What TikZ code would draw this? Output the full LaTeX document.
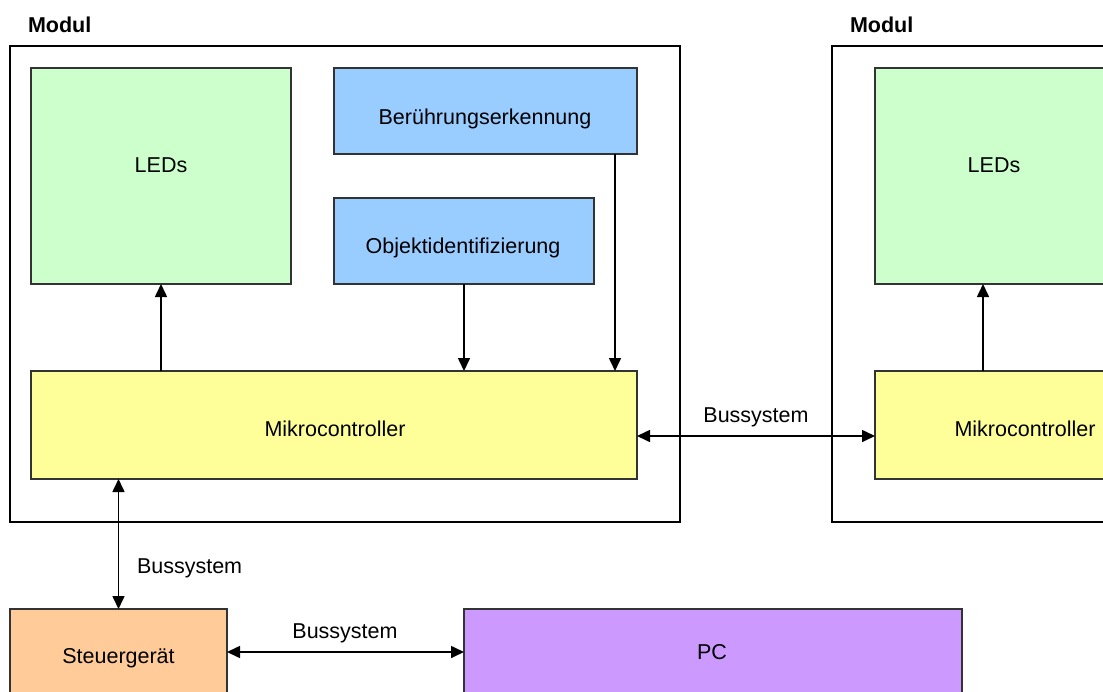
\documentclass[tikz,border=0pt]{standalone}
\usepackage{fontspec}
\setmainfont{Liberation Sans}
\usetikzlibrary{arrows.meta}
\definecolor{ledgreen}{HTML}{CCFFCC}
\definecolor{sensblue}{HTML}{99CCFF}
\definecolor{mcyellow}{HTML}{FFFF99}
\definecolor{ctrlorange}{HTML}{FFCC99}
\definecolor{pcpurple}{HTML}{CC99FF}
\definecolor{edgegray}{HTML}{333333}
\begin{document}
\begin{tikzpicture}[x=1pt,y=-1pt,
  font=\fontsize{21.5}{25}\selectfont,
  every node/.style={inner sep=0pt, outer sep=0pt},
  modul/.style={draw=black, line width=2pt, anchor=north west},
  block/.style={draw=edgegray, line width=1.5pt, anchor=north west},
  lbl/.style={anchor=base},
  heading/.style={anchor=base west, font=\fontsize{21.5}{25}\selectfont\bfseries},
  tip/.tip={Triangle[length=13pt,width=12pt]},
  link/.style={line width=1.6pt, -tip},
  bus/.style={line width=1.6pt, tip-tip},
]
\useasboundingbox (0,0) rectangle (1103,691);
\clip (0,0) rectangle (1103,691);

% left module
\node[heading] (h1) at (28,32) {Modul};
\node[modul, minimum width=670pt, minimum height=476pt] (m1) at (10,46) {};
\node[block, fill=ledgreen, minimum width=260pt, minimum height=216pt] (leds) at (31,68) {};
\node[block, fill=sensblue, minimum width=303pt, minimum height=86pt] (ber) at (334,68) {};
\node[block, fill=sensblue, minimum width=260pt, minimum height=86pt] (obj) at (334,198) {};
\node[block, fill=mcyellow, minimum width=606pt, minimum height=108pt] (mc) at (31,371) {};
\node[lbl] (tleds) at (161,172.5) {LEDs};
\node[lbl] (tber) at (485,124) {Berührungserkennung};
\node[lbl] (tobj) at (463,253) {Objektidentifizierung};
\node[lbl] (tmc) at (335,436) {Mikrocontroller};

% right module (continues beyond the edge)
\node[heading] (h2) at (850,32) {Modul};
\node[modul, minimum width=330pt, minimum height=476pt] (m2) at (832,46) {};
\node[block, fill=ledgreen, minimum width=238pt, minimum height=216pt] (leds2) at (875,68) {};
\node[block, fill=mcyellow, minimum width=300pt, minimum height=108pt] (mc2) at (875,371) {};
\node[lbl] (tleds2) at (994,172.5) {LEDs};
\node[lbl] (tmc2) at (1025,436) {Mikrocontroller};

% external units
\node[block, fill=ctrlorange, minimum width=217pt, minimum height=110pt] (steuer) at (10,609) {};
\node[block, fill=pcpurple, minimum width=498pt, minimum height=100pt] (pc) at (464,609) {};
\node[lbl] (tsteuer) at (118.5,663) {Steuergerät};
\node[lbl] (tpc) at (712,659) {PC};

% signal paths inside the modules
\draw[link] (mc.north -| leds.south) -- (leds.south);
\draw[link] (obj.south) -- (obj.south |- mc.north);
\coordinate (bertap) at ([xshift=-22pt]ber.south east);
\draw[link] (bertap) -- (bertap |- mc.north);
\coordinate (rtap) at ([xshift=108pt]mc2.north west);
\draw[link] (rtap) -- (rtap |- leds2.south);

% bus connections
\coordinate (busA) at ([yshift=-11pt]mc.east);
\draw[bus] (busA) -- (busA -| mc2.west);
\node[lbl] (lbusA) at (756,422) {Bussystem};
\draw[bus] (steuer.north |- mc.south) -- (steuer.north);
\node[anchor=base west] (lbusB) at (137,573) {Bussystem};
\coordinate (busC) at ([yshift=-43pt]pc.north west);
\draw[bus] (busC -| steuer.east) -- (busC);
\node[lbl] (lbusC) at (345,638) {Bussystem};
\end{tikzpicture}
\end{document}
